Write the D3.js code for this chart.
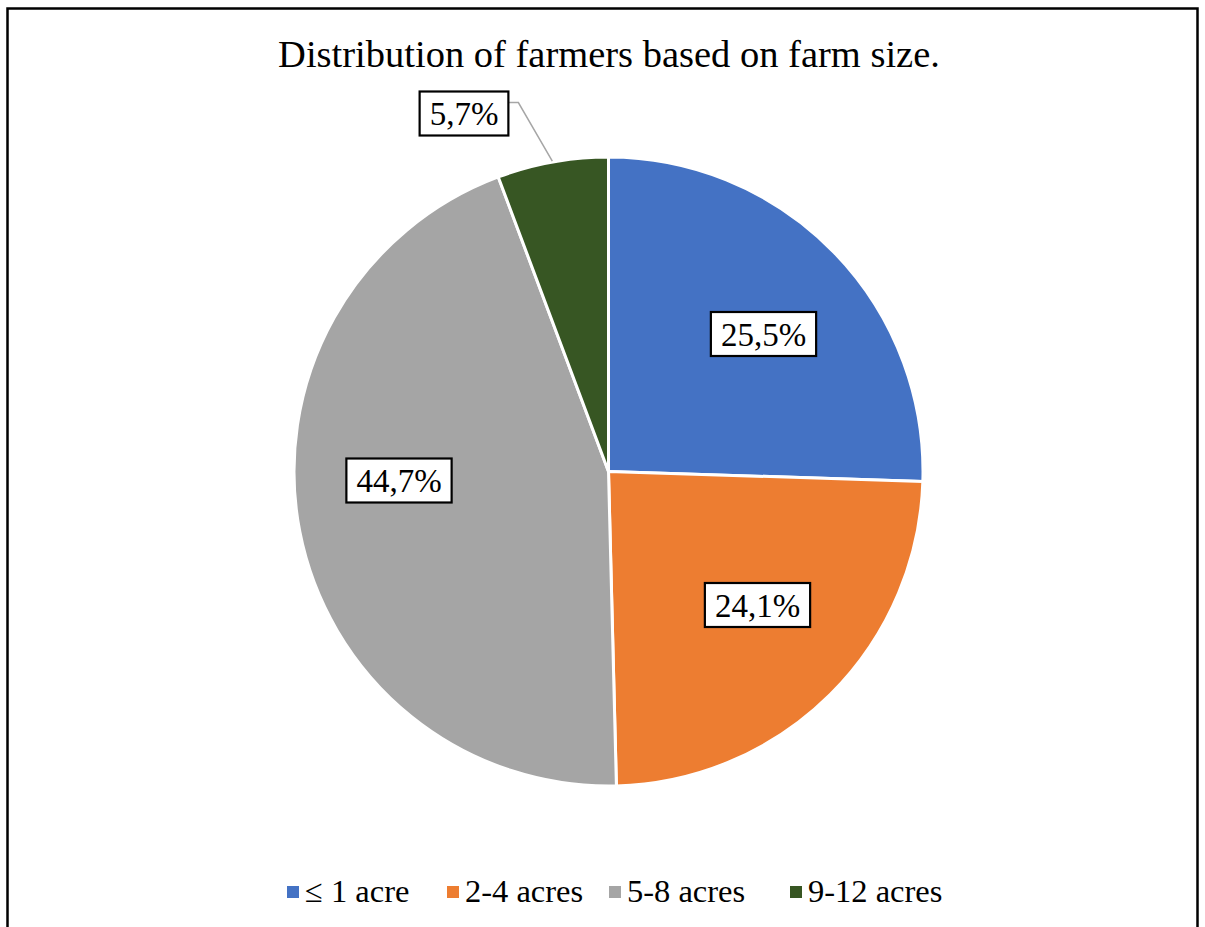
<!DOCTYPE html>
<html><head><meta charset="utf-8">
<script src="https://cdn.jsdelivr.net/npm/d3@7"></script>
<style>body{margin:0;background:#fff}svg{display:block}</style>
</head><body>
<svg id="c" width="1205" height="927"></svg>
<script>
const categories = ["≤ 1 acre", "2-4 acres", "5-8 acres", "9-12 acres"];
const values = [25.5, 24.1, 44.7, 5.7];
const labels = ["25,5%", "24,1%", "44,7%", "5,7%"];
const colors = ["#4472c4", "#ed7d31", "#a5a5a5", "#375623"];
const title = "Distribution of farmers based on farm size.";

// layout (label centres relative to pie centre, legend x positions)
const labelOffsets = [[155, -137.5], [149, 133.5], [-209.5, 9], [-144.5, -358]];
const legendX = [287, 447, 609, 790];

const svg = d3.select("#c");
const font = "'Liberation Serif','Times New Roman',serif";

svg.append("path").attr("d", "M7.5,935 L7.5,8.5 L1197.5,8.5 L1197.5,935")
  .attr("fill", "none").attr("stroke", "#000").attr("stroke-width", 2.5);

svg.append("text").attr("x", 609).attr("y", 67).attr("text-anchor", "middle")
  .attr("font-family", font).attr("font-size", 38.5).text(title);

const cx = 608.5, cy = 471.5, R = 314.5;
const g = svg.append("g").attr("transform", `translate(${cx},${cy})`);
const pie = d3.pie().sort(null).value(d => d);
const arcs = pie(values);
const arc = d3.arc().innerRadius(0).outerRadius(R);
g.selectAll("path.s").data(arcs).enter().append("path").attr("class", "s")
  .attr("d", arc).attr("fill", (d, i) => colors[i])
  .attr("stroke", "#fff").attr("stroke-width", 3).attr("stroke-linejoin", "round");

const lab = g.append("g");
arcs.forEach((d, i) => {
  const [x, y] = labelOffsets[i];
  const t = lab.append("text").attr("x", x).attr("y", y + 11.5).attr("text-anchor", "middle")
    .attr("font-family", font).attr("font-size", 33).text(labels[i]);
  const bb = t.node().getBBox();
  const w = bb.width + 20, h = 44;
  if (values[i] < 10) {
    const mid = (d.startAngle + d.endAngle) / 2;
    const px = Math.sin(mid) * (R + 1), py = -Math.cos(mid) * (R + 1);
    lab.insert("polyline", "text")
      .attr("points", `${x + w / 2},${y - 11} ${x + w / 2 + 10},${y - 11} ${px},${py}`)
      .attr("fill", "none").attr("stroke", "#a6a6a6").attr("stroke-width", 1.5);
  }
  lab.insert("rect", "text").attr("x", x - w / 2).attr("y", y - h / 2)
    .attr("width", w).attr("height", h)
    .attr("fill", "#fff").attr("stroke", "#000").attr("stroke-width", 2.2);
});

const lg = svg.append("g");
categories.forEach((c, i) => {
  lg.append("rect").attr("x", legendX[i]).attr("y", 886).attr("width", 12).attr("height", 12)
    .attr("fill", colors[i]);
  lg.append("text").attr("x", legendX[i] + 18).attr("y", 902)
    .attr("font-family", font).attr("font-size", 32.5).text(c);
});
</script>
</body></html>
